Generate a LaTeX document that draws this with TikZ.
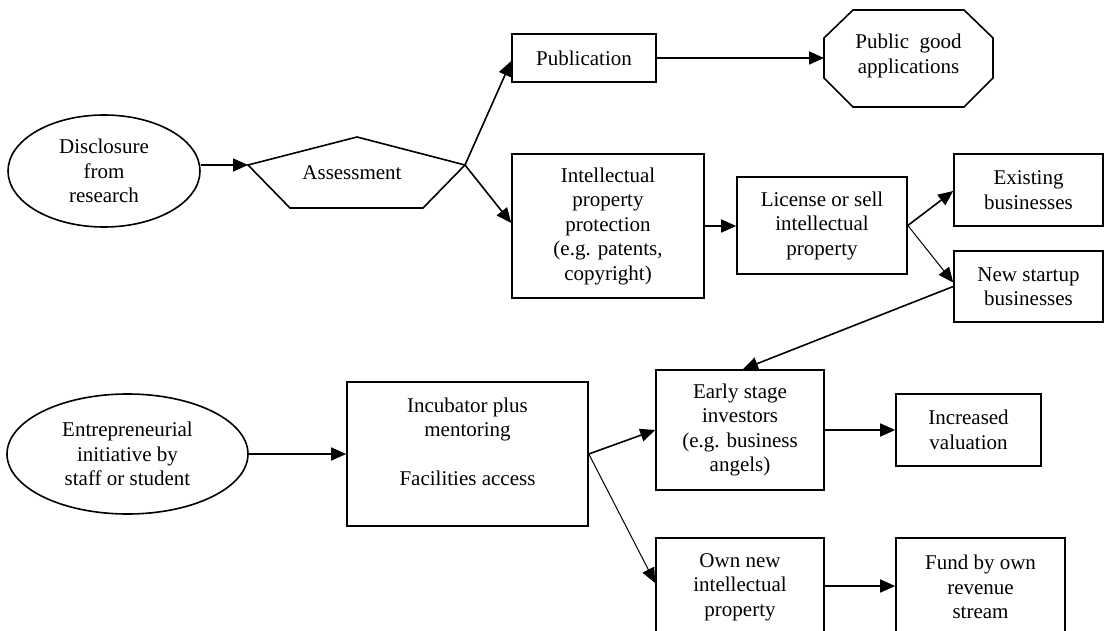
\documentclass[tikz,border=0pt]{standalone}
\usepackage{fontspec}
\setmainfont{Liberation Serif}
\usetikzlibrary{arrows.meta,shapes.geometric,calc}
\tikzset{
  lbl/.style={font=\fontsize{21}{24.5}\selectfont, align=center, inner sep=0pt},
  box/.style={lbl, draw, line width=1.6pt},
  oval/.style={lbl, draw, ellipse, line width=1.6pt},
  shapeline/.style={line width=1.6pt, line join=miter},
  conn/.style={line width=1.6pt, -{Triangle[length=15pt,width=13pt]}},
  thinconn/.style={line width=1pt, -{Triangle[length=15pt,width=13pt]}}
}
\begin{document}
\begin{tikzpicture}[x=1pt,y=-1pt]
\useasboundingbox (0,0) rectangle (1110,631);
\clip (0,0) rectangle (1110,631);
% ellipses
\node[oval, minimum width=192pt, minimum height=112pt] (disc) at (104,171) {Disclosure\\from\\research};
\node[oval, minimum width=241pt, minimum height=120pt] (entre) at (127.5,454) {Entrepreneurial\\initiative by\\staff or student};
% pentagon
\coordinate (aL) at (248,165);
\coordinate (aT) at (357,137);
\coordinate (aR) at (465,165);
\coordinate (aBR) at (423,208);
\coordinate (aBL) at (290,208);
\draw[shapeline] (aL) -- (aT) -- (aR) -- (aBR) -- (aBL) -- cycle;
\node[lbl] (asl) at (352,173) {Assessment};
% octagon
\coordinate (o1) at (853,10);
\coordinate (o2) at (964,10);
\coordinate (o3) at (993,38);
\coordinate (o4) at (993,78);
\coordinate (o5) at (964,107);
\coordinate (o6) at (853,107);
\coordinate (o7) at (824,78);
\coordinate (o8) at (824,38);
\coordinate (oW) at (824,58);
\draw[shapeline] (o1) -- (o2) -- (o3) -- (o4) -- (o5) -- (o6) -- (o7) -- (o8) -- cycle;
\node[lbl] (pga) at (908.5,56) {Public\ \ good\\applications};
% boxes
\node[box, minimum width=144pt, minimum height=48pt] (pub) at (584,58) {Publication};
\node[box, minimum width=192pt, minimum height=144pt] (ip) at (608,226) {Intellectual\\property\\protection\\(e.g. patents,\\copyright)};
\node[box, minimum width=170pt, minimum height=97pt] (lic) at (822,225.5) {License or sell\\intellectual\\property};
\node[box, minimum width=149pt, minimum height=72pt] (exist) at (1028.5,190) {Existing\\businesses};
\node[box, minimum width=149pt, minimum height=71pt] (newst) at (1028.5,286.5) {New startup\\businesses};
\node[box, minimum width=241pt, minimum height=144pt] (incub) at (467.5,454) {Incubator plus\\mentoring\\\mbox{}\\Facilities access\\\mbox{}};
\node[box, minimum width=168pt, minimum height=120pt] (early) at (740,430) {Early stage\\investors\\(e.g. business\\angels)};
\node[box, minimum width=145pt, minimum height=72pt] (incr) at (968.5,430) {Increased\\valuation};
\node[box, minimum width=168pt, minimum height=98pt] (own) at (740,587) {Own new\\intellectual\\property};
\node[box, minimum width=169pt, minimum height=98pt] (fund) at (980.5,587) {Fund by own\\revenue\\stream};
% connectors
\draw[conn] (disc.east |- aL) -- (aL);
\draw[conn] (aR) -- ($(pub.west)+(0,3)$);
\draw[conn] (aR) -- ($(ip.west)+(0,-3)$);
\draw[conn] (pub.east) -- (oW);
\draw[conn] (ip.east) -- (ip.east -| lic.west);
\draw[conn] (lic.east) -- ($(exist.west)+(0,1)$);
\draw[thinconn] (lic.east) -- ($(newst.west)+(0,-4)$);
\draw[conn] ($(newst.west)+(0,0)$) -- ($(early.north)+(3,0)$);
\draw[conn] (entre.east) -- (incub.west);
\draw[conn] (incub.east) -- (early.west);
\draw[thinconn] (incub.east) -- ($(own.west)+(0,-4)$);
\draw[conn] (early.east) -- (incr.west);
\draw[conn] ($(own.east)+(0,-1)$) -- ($(fund.west)+(0,-1)$);
\end{tikzpicture}
\end{document}
